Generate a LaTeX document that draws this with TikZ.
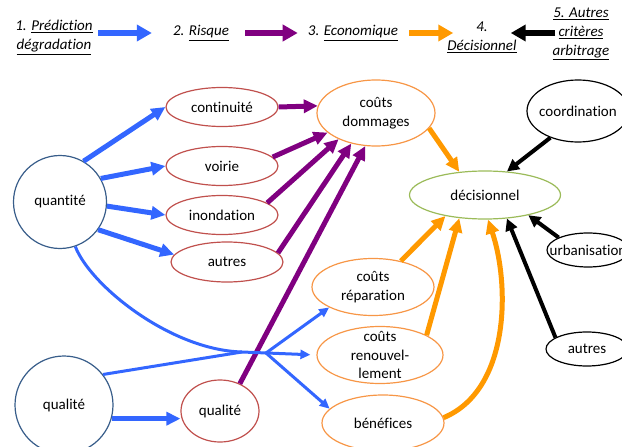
\documentclass[tikz,border=0pt]{standalone}
\usepackage{fontspec}
\setmainfont{Carlito}[Ligatures=NoCommon]
\usetikzlibrary{arrows.meta,shapes.geometric}
\tikzset{
  base/.style={
    font=\fontsize{15}{18.5}\selectfont,
    align=center,
    inner sep=1pt
  },
  node-circle/.style={base, circle, draw=circblue, line width=1.2pt},
  node-risk/.style={base, ellipse, draw=riskred, line width=1.2pt},
  node-cost/.style={base, ellipse, draw=costorange, line width=1.2pt},
  node-dec/.style={base, ellipse, draw=decgreen, line width=1.2pt},
  node-other/.style={base, ellipse, draw=black, line width=1.2pt},
  header/.style={font=\fontsize{15}{19}\selectfont\itshape, align=center, inner sep=0pt},
  arrow-big/.style={line width=5.5pt, -{Triangle[length=15pt,width=16pt]}},
  arrow-blue/.style={draw=arrowblue, line width=5pt, -{Triangle[length=14pt,width=13pt]}},
  arrow-purple/.style={draw=riskpurple, line width=5pt, -{Triangle[length=14pt,width=13pt]}},
  arrow-orange/.style={draw=lineorange, line width=5pt, -{Triangle[length=14pt,width=13pt]}},
  arrow-black/.style={draw=black, line width=4pt, -{Triangle[length=12pt,width=12pt]}},
  thin-line/.style={draw=arrowblue, line width=3pt},
  arrow-thin/.style={thin-line, -{Triangle[length=10pt,width=9pt]}}
}
\definecolor{arrowblue}{RGB}{51,102,255}
\definecolor{riskpurple}{RGB}{128,0,128}
\definecolor{lineorange}{RGB}{255,153,0}
\definecolor{costorange}{RGB}{247,150,70}
\definecolor{riskred}{RGB}{192,80,77}
\definecolor{circblue}{RGB}{56,93,138}
\definecolor{decgreen}{RGB}{155,187,89}
\newcommand{\diagframe}{
  \useasboundingbox (0,0) rectangle (622,447);
}

\begin{document}
\begin{tikzpicture}[x=1pt, y=-1pt]
  \diagframe
  % header row
  \node[header] (h1) at (54,37.5) {1. \underline{Prédiction}\\\underline{dégradation}};
  \node[header] (h2) at (201,33) {2. \underline{Risque}};
  \node[header] (h3) at (353,33) {3. \underline{Economique}};
  \node[header] (h4) at (482,37.5) {4.\\\underline{Décisionnel}};
  \node[header] (h5) at (581,34) {\underline{5. Autres}\\\underline{critères}\\\underline{arbitrage}};
  \draw[arrow-big, draw=arrowblue, shorten <=5pt, shorten >=21pt] (h1.east |- h2.west) -- (h2.west);
  \draw[arrow-big, draw=riskpurple, shorten <=16pt, shorten >=10pt] (h2.east) -- (h3.west);
  \draw[arrow-big, draw=lineorange, shorten <=11pt, shorten >=-6pt] (h3.east) -- (h3.east -| h4.west);
  \draw[arrow-big, draw=black, shorten <=-3pt, shorten >=-6pt] (h5.west |- h3.east) -- (h3.east -| h4.east);

  % prediction
  \node[node-circle, minimum size=93pt] (quantite) at (60,202) {quantité};
  \node[node-circle, minimum size=98pt] (qualite) at (64,405) {qualité};

  % risques
  \foreach \name/\y/\txt in {continuite/107/continuité, voirie/166/voirie, inondation/215/inondation} {
    \node[node-risk, minimum width=112pt, minimum height=39pt] (\name) at (222,\y) {\txt};
  }
  \node[node-risk, minimum width=112pt, minimum height=40pt] (autres-risk) at (227,262) {autres};
  \node[node-risk, minimum width=78pt, minimum height=62pt] (qualite-risk) at (220,411) {qualité};

  % couts
  \node[node-cost, minimum width=118pt, minimum height=66pt] (dommages) at (376,113) {coûts\\dommages};
  \node[node-cost, minimum width=122pt, minimum height=57pt] (reparation) at (373,287) {coûts\\réparation};
  \node[node-cost, minimum width=126pt, minimum height=57pt,
    label={[base]center:coûts\\renouvel-\\lement}] (renouvel) at (380,355) {};
  \node[node-cost, minimum width=122pt, minimum height=56pt] (benefices) at (383,423) {bénéfices};

  % decision and other criteria
  \node[node-dec, minimum width=151pt, minimum height=48pt] (decisionnel) at (485,195) {décisionnel};
  \node[node-other, minimum width=102pt, minimum height=62pt,
    label={[base]center:coordination}] (coordination) at (578,111) {};
  \node[node-other, minimum width=82pt, minimum height=34pt,
    label={[base]center:urbanisation}] (urbanisation) at (588,250) {};
  \node[node-other, minimum width=82pt, minimum height=34pt] (autres-crit) at (587,349) {autres};

  % quantite/qualite -> risques
  \foreach \a/\t in {60/continuite.west, 30/voirie.west, -5/inondation.west, -36/autres-risk.172} {
    \draw[arrow-blue] (quantite.\a) -- (\t);
  }
  \draw[arrow-blue] (qualite.-16) -- (qualite.-16 -| qualite-risk.west);

  % risques -> couts dommages
  \draw[arrow-purple] (continuite.east) -- (dommages.173);
  \foreach \s/\a in {voirie.10/202, inondation.15/215, autres-risk.10/231, qualite-risk.54/252} {
    \draw[arrow-purple] (\s) -- (dommages.\a);
  }

  % thin blue links
  \coordinate (merge) at (242,352);
  \coordinate (split) at (266,353);
  \draw[thin-line] (quantite.-71) .. controls (90,285) and (170,350) .. (merge);
  \draw[thin-line] (qualite.38) -- (merge);
  \draw[arrow-thin, shorten >=6pt] (merge) -- (renouvel.west);
  \draw[arrow-thin] (split) -- (reparation.205);
  \draw[arrow-thin] (split) -- (benefices.165);

  % couts -> decisionnel
  \draw[arrow-orange] (dommages.-16) -- (decisionnel.138);
  \draw[arrow-orange] (reparation.43) -- (decisionnel.208);
  \draw[arrow-orange] (renouvel.23) -- (decisionnel.222);
  \draw[arrow-orange] (benefices.5) .. controls (510,390) and (510,285) .. (decisionnel.-83);

  % autres criteres -> decisionnel
  \draw[arrow-black] (coordination.224) -- (decisionnel.47);
  \draw[arrow-black] (urbanisation.157) -- (decisionnel.-25);
  \draw[arrow-black] (autres-crit.160) -- (decisionnel.-47);
\end{tikzpicture}
\end{document}
